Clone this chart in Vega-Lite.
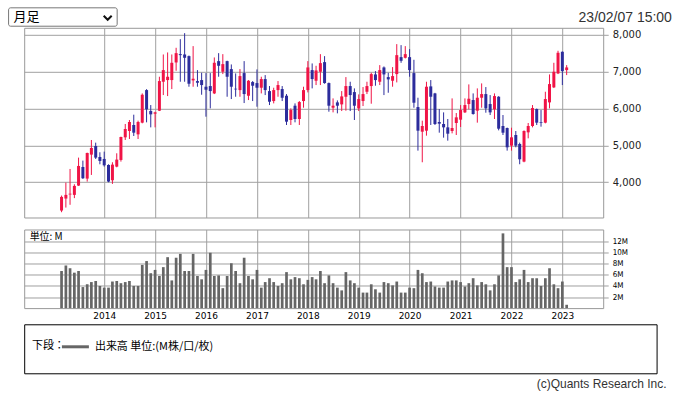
{
"$schema": "https://vega.github.io/schema/vega-lite/v6.json",
"background": "white",
"padding": {"left": 6.2, "top": 6.8, "right": 2, "bottom": 2},
"spacing": 2.5,
"config": {
  "view": {"stroke": "#999999", "strokeWidth": 1},
  "axis": {"gridColor": "#a0a0a0", "gridOpacity": 1, "gridWidth": 1, "tickColor": "#a0a0a0", "labelColor": "#222222", "labelFont": "DejaVu Sans"},
  "scale": {"continuousPadding": 0},
  "font": "Noto Sans CJK JP"
},
"resolve": {"legend": {"color": "independent"}, "scale": {"color": "independent", "x": "independent"}},
"datasets": {
"p": [
{"d":"2013-03-01","o":3234,"h":3640,"l":3189,"c":3604,"v":6.7},
{"d":"2013-04-01","o":3559,"h":3991,"l":3315,"c":3658,"v":7.7},
{"d":"2013-05-01","o":3670,"h":4360,"l":3390,"c":3690,"v":7.2},
{"d":"2013-06-01","o":3658,"h":3946,"l":3570,"c":3901,"v":6.4},
{"d":"2013-07-01","o":3910,"h":4667,"l":3900,"c":4441,"v":6.7},
{"d":"2013-08-01","o":4414,"h":4586,"l":4090,"c":4108,"v":3.8},
{"d":"2013-09-01","o":4099,"h":4800,"l":4018,"c":4793,"v":4.3},
{"d":"2013-10-01","o":4748,"h":5144,"l":4198,"c":4928,"v":4.7},
{"d":"2013-11-01","o":4982,"h":5072,"l":4630,"c":4667,"v":4.9},
{"d":"2013-12-01","o":4685,"h":4811,"l":4486,"c":4577,"v":4.0},
{"d":"2014-01-01","o":4631,"h":4829,"l":4423,"c":4459,"v":3.7},
{"d":"2014-02-01","o":4468,"h":4486,"l":4000,"c":4018,"v":3.7},
{"d":"2014-03-01","o":4054,"h":4541,"l":3955,"c":4477,"v":4.8},
{"d":"2014-04-01","o":4423,"h":4784,"l":4405,"c":4613,"v":4.9},
{"d":"2014-05-01","o":4604,"h":5234,"l":4559,"c":5225,"v":4.5},
{"d":"2014-06-01","o":5216,"h":5577,"l":5144,"c":5441,"v":4.7},
{"d":"2014-07-01","o":5387,"h":5685,"l":5171,"c":5631,"v":4.9},
{"d":"2014-08-01","o":5550,"h":5829,"l":5252,"c":5342,"v":4.0},
{"d":"2014-09-01","o":5297,"h":5667,"l":5171,"c":5631,"v":4.0},
{"d":"2014-10-01","o":5613,"h":6405,"l":5595,"c":6369,"v":7.8},
{"d":"2014-11-01","o":6495,"h":6520,"l":5622,"c":5973,"v":8.5},
{"d":"2014-12-01","o":5928,"h":6090,"l":5486,"c":5838,"v":6.3},
{"d":"2015-01-01","o":5856,"h":5910,"l":5486,"c":5892,"v":6.9},
{"d":"2015-02-01","o":5937,"h":6856,"l":5928,"c":6739,"v":5.8},
{"d":"2015-03-01","o":6721,"h":7459,"l":6360,"c":7036,"v":7.4},
{"d":"2015-04-01","o":6766,"h":7514,"l":6333,"c":6856,"v":9.2},
{"d":"2015-05-01","o":6766,"h":7459,"l":6523,"c":7234,"v":5.0},
{"d":"2015-06-01","o":7243,"h":7640,"l":7018,"c":7495,"v":9.1},
{"d":"2015-07-01","o":7468,"h":7874,"l":6721,"c":7441,"v":9.8},
{"d":"2015-08-01","o":7459,"h":8036,"l":6721,"c":7369,"v":6.7},
{"d":"2015-09-01","o":7414,"h":7430,"l":6586,"c":6667,"v":6.7},
{"d":"2015-10-01","o":6757,"h":7685,"l":6586,"c":6802,"v":9.8},
{"d":"2015-11-01","o":6739,"h":7036,"l":6586,"c":6694,"v":5.8},
{"d":"2015-12-01","o":6766,"h":6964,"l":6369,"c":6631,"v":5.2},
{"d":"2016-01-01","o":6586,"h":6955,"l":5775,"c":6505,"v":6.9},
{"d":"2016-02-01","o":6604,"h":6955,"l":6000,"c":6468,"v":10.0},
{"d":"2016-03-01","o":6405,"h":7378,"l":6387,"c":7234,"v":5.8},
{"d":"2016-04-01","o":7279,"h":7495,"l":6856,"c":7153,"v":5.9},
{"d":"2016-05-01","o":6991,"h":7468,"l":6928,"c":7198,"v":3.6},
{"d":"2016-06-01","o":7279,"h":7290,"l":6315,"c":6856,"v":5.8},
{"d":"2016-07-01","o":7063,"h":7189,"l":6252,"c":6586,"v":8.1},
{"d":"2016-08-01","o":6532,"h":6946,"l":6315,"c":6514,"v":6.7},
{"d":"2016-09-01","o":6495,"h":7063,"l":6315,"c":6874,"v":4.5},
{"d":"2016-10-01","o":6955,"h":7279,"l":6144,"c":6387,"v":9.1},
{"d":"2016-11-01","o":6342,"h":6766,"l":6225,"c":6748,"v":5.8},
{"d":"2016-12-01","o":6712,"h":6739,"l":6198,"c":6613,"v":5.2},
{"d":"2017-01-01","o":6685,"h":7054,"l":6045,"c":6559,"v":6.9},
{"d":"2017-02-01","o":6559,"h":6856,"l":6405,"c":6793,"v":3.7},
{"d":"2017-03-01","o":6793,"h":6901,"l":6360,"c":6495,"v":4.7},
{"d":"2017-04-01","o":6468,"h":6604,"l":6090,"c":6180,"v":5.4},
{"d":"2017-05-01","o":6198,"h":6559,"l":6135,"c":6495,"v":4.7},
{"d":"2017-06-01","o":6495,"h":6739,"l":6315,"c":6631,"v":4.0},
{"d":"2017-07-01","o":6523,"h":6604,"l":6198,"c":6288,"v":4.5},
{"d":"2017-08-01","o":6342,"h":6387,"l":5550,"c":5640,"v":6.5},
{"d":"2017-09-01","o":5685,"h":6000,"l":5550,"c":5955,"v":5.2},
{"d":"2017-10-01","o":6072,"h":6135,"l":5622,"c":5712,"v":5.6},
{"d":"2017-11-01","o":5712,"h":6198,"l":5550,"c":6171,"v":5.4},
{"d":"2017-12-01","o":6198,"h":6586,"l":6018,"c":6495,"v":4.3},
{"d":"2018-01-01","o":6495,"h":7279,"l":6432,"c":7108,"v":5.1},
{"d":"2018-02-01","o":7036,"h":7216,"l":6541,"c":6793,"v":5.6},
{"d":"2018-03-01","o":6748,"h":7153,"l":6631,"c":7027,"v":5.2},
{"d":"2018-04-01","o":6991,"h":7468,"l":6631,"c":7225,"v":6.7},
{"d":"2018-05-01","o":7252,"h":7414,"l":6667,"c":6685,"v":4.5},
{"d":"2018-06-01","o":6685,"h":6700,"l":5910,"c":6072,"v":5.9},
{"d":"2018-07-01","o":6018,"h":6270,"l":5892,"c":6072,"v":4.5},
{"d":"2018-08-01","o":6162,"h":6216,"l":5865,"c":6072,"v":3.7},
{"d":"2018-09-01","o":6108,"h":6468,"l":5928,"c":6324,"v":3.2},
{"d":"2018-10-01","o":6315,"h":6847,"l":5937,"c":6604,"v":6.5},
{"d":"2018-11-01","o":6604,"h":6721,"l":5928,"c":6360,"v":5.0},
{"d":"2018-12-01","o":6441,"h":6541,"l":5685,"c":6072,"v":4.5},
{"d":"2019-01-01","o":6000,"h":6378,"l":5928,"c":6252,"v":3.7},
{"d":"2019-02-01","o":6198,"h":6577,"l":6063,"c":6387,"v":2.8},
{"d":"2019-03-01","o":6450,"h":6721,"l":6387,"c":6604,"v":2.8},
{"d":"2019-04-01","o":6604,"h":6964,"l":6126,"c":6928,"v":4.3},
{"d":"2019-05-01","o":6919,"h":7009,"l":6613,"c":6766,"v":3.4},
{"d":"2019-06-01","o":6721,"h":7171,"l":6631,"c":7036,"v":2.8},
{"d":"2019-07-01","o":7108,"h":7135,"l":6360,"c":6919,"v":4.7},
{"d":"2019-08-01","o":6847,"h":6964,"l":6423,"c":6784,"v":4.5},
{"d":"2019-09-01","o":6748,"h":7117,"l":6586,"c":6874,"v":4.1},
{"d":"2019-10-01","o":6928,"h":7739,"l":6703,"c":7441,"v":4.8},
{"d":"2019-11-01","o":7387,"h":7712,"l":7234,"c":7288,"v":2.8},
{"d":"2019-12-01","o":7369,"h":7685,"l":7351,"c":7468,"v":2.8},
{"d":"2020-01-01","o":7387,"h":7604,"l":6856,"c":7036,"v":3.7},
{"d":"2020-02-01","o":6955,"h":7315,"l":6018,"c":6153,"v":3.6},
{"d":"2020-03-01","o":6036,"h":6288,"l":4856,"c":5396,"v":6.9},
{"d":"2020-04-01","o":5369,"h":5667,"l":4541,"c":5523,"v":6.3},
{"d":"2020-05-01","o":5396,"h":6721,"l":5261,"c":6586,"v":4.7},
{"d":"2020-06-01","o":6595,"h":6766,"l":5550,"c":6315,"v":4.8},
{"d":"2020-07-01","o":6405,"h":6420,"l":5550,"c":5577,"v":3.9},
{"d":"2020-08-01","o":5631,"h":5982,"l":5342,"c":5586,"v":3.7},
{"d":"2020-09-01","o":5577,"h":5892,"l":5207,"c":5486,"v":3.7},
{"d":"2020-10-01","o":5486,"h":5712,"l":5126,"c":5315,"v":4.8},
{"d":"2020-11-01","o":5387,"h":6270,"l":5324,"c":5468,"v":5.0},
{"d":"2020-12-01","o":5604,"h":5874,"l":5279,"c":5757,"v":5.0},
{"d":"2021-01-01","o":5694,"h":6090,"l":5496,"c":5955,"v":4.7},
{"d":"2021-02-01","o":5892,"h":6270,"l":5874,"c":6090,"v":3.9},
{"d":"2021-03-01","o":6117,"h":6649,"l":5973,"c":6261,"v":4.5},
{"d":"2021-04-01","o":6225,"h":6405,"l":5830,"c":5847,"v":5.4},
{"d":"2021-05-01","o":5937,"h":6541,"l":5613,"c":6288,"v":4.1},
{"d":"2021-06-01","o":6288,"h":6676,"l":6018,"c":6387,"v":4.7},
{"d":"2021-07-01","o":6387,"h":6577,"l":5883,"c":6000,"v":4.3},
{"d":"2021-08-01","o":6117,"h":6360,"l":5820,"c":5892,"v":3.2},
{"d":"2021-09-01","o":5973,"h":6405,"l":5712,"c":6333,"v":4.3},
{"d":"2021-10-01","o":6315,"h":6330,"l":5405,"c":5450,"v":5.9},
{"d":"2021-11-01","o":5523,"h":5820,"l":5279,"c":5342,"v":13.5},
{"d":"2021-12-01","o":5468,"h":5480,"l":4856,"c":4946,"v":7.4},
{"d":"2022-01-01","o":4991,"h":5477,"l":4856,"c":5216,"v":7.4},
{"d":"2022-02-01","o":5279,"h":5387,"l":4946,"c":4991,"v":4.7},
{"d":"2022-03-01","o":5036,"h":5072,"l":4487,"c":4622,"v":5.2},
{"d":"2022-04-01","o":4559,"h":5405,"l":4541,"c":5387,"v":6.9},
{"d":"2022-05-01","o":5351,"h":5604,"l":5189,"c":5523,"v":4.7},
{"d":"2022-06-01","o":5523,"h":6090,"l":5486,"c":6009,"v":5.4},
{"d":"2022-07-01","o":5982,"h":5995,"l":5550,"c":5613,"v":5.4},
{"d":"2022-08-01","o":5631,"h":5955,"l":5505,"c":5613,"v":4.0},
{"d":"2022-09-01","o":5613,"h":6450,"l":5595,"c":6252,"v":5.4},
{"d":"2022-10-01","o":6162,"h":6919,"l":6000,"c":6658,"v":7.2},
{"d":"2022-11-01","o":6568,"h":7234,"l":6550,"c":6991,"v":4.3},
{"d":"2022-12-01","o":6946,"h":7559,"l":6928,"c":7505,"v":3.6},
{"d":"2023-01-01","o":7532,"h":7540,"l":6631,"c":7009,"v":4.8},
{"d":"2023-02-01","o":7036,"h":7171,"l":6901,"c":7108,"v":0.6}
]
},
"vconcat": [
{
  "bounds": "flush",
  "spacing": 11.7,
  "vconcat": [
  {
    "width": 579,
    "height": 189.7,
    "layer": [
      {
        "data": {"name": "p"},
        "mark": {"type": "rule", "strokeWidth": 1},
        "encoding": {
          "x": {"field": "d", "type": "temporal",
                "scale": {"type": "utc", "padding": 0, "domain": [{"year": 2012, "month": 6, "date": 6, "utc": true}, {"year": 2023, "month": 10, "date": 21, "utc": true}]},
                "axis": {"title": null, "grid": true, "labels": false, "ticks": false, "domain": false,
                         "values": [{"year":2014,"month":1,"date":1,"utc":true},{"year":2015,"month":1,"date":1,"utc":true},{"year":2016,"month":1,"date":1,"utc":true},{"year":2017,"month":1,"date":1,"utc":true},{"year":2018,"month":1,"date":1,"utc":true},{"year":2019,"month":1,"date":1,"utc":true},{"year":2020,"month":1,"date":1,"utc":true},{"year":2021,"month":1,"date":1,"utc":true},{"year":2022,"month":1,"date":1,"utc":true},{"year":2023,"month":1,"date":1,"utc":true}]}},
          "y": {"field": "l", "type": "quantitative",
                "scale": {"domain": [3046, 8181], "nice": false, "zero": false, "padding": 0},
                "axis": {"title": null, "orient": "right", "values": [4000, 5000, 6000, 7000, 8000], "format": ",d", "grid": true, "ticks": true, "tickSize": 5, "domain": false, "labelFontSize": 10, "labelPadding": 4}},
          "y2": {"field": "h"},
          "color": {"condition": {"test": "datum.c >= datum.o", "value": "#f01446"}, "value": "#2c2c9c"}
        }
      },
      {
        "data": {"name": "p"},
        "mark": {"type": "bar", "width": 3},
        "encoding": {
          "x": {"field": "d", "type": "temporal"},
          "y": {"field": "o", "type": "quantitative"},
          "y2": {"field": "c"},
          "color": {"condition": {"test": "datum.c >= datum.o", "value": "#f01446"}, "value": "#2c2c9c"}
        }
      },
      {
        "data": {"values": [{}]},
        "mark": {"type": "rect", "fill": "white", "stroke": "#767676", "strokeWidth": 1, "cornerRadius": 2, "clip": false},
        "encoding": {
          "x": {"datum": {"year": 2012, "month": 2, "date": 15, "utc": true}, "type": "temporal"},
          "x2": {"datum": {"year": 2014, "month": 4, "date": 4, "utc": true}},
          "y": {"datum": 8722, "type": "quantitative"},
          "y2": {"datum": 8224}
        }
      },
      {
        "data": {"values": [{}]},
        "mark": {"type": "text", "align": "left", "baseline": "middle", "fontSize": 13, "font": "Noto Sans CJK JP", "color": "#000000", "clip": false},
        "encoding": {
          "x": {"datum": {"year": 2012, "month": 3, "date": 22, "utc": true}, "type": "temporal"},
          "y": {"datum": 8473, "type": "quantitative"},
          "text": {"value": "月足"}
        }
      },
      {
        "data": {"values": [{}]},
        "mark": {"type": "point", "shape": "M-1,-0.5L0,0.5L1,-0.5", "filled": false, "color": "#111111", "strokeWidth": 2, "size": 64, "opacity": 1, "clip": false},
        "encoding": {
          "x": {"datum": {"year": 2014, "month": 1, "date": 26, "utc": true}, "type": "temporal"},
          "y": {"datum": 8451, "type": "quantitative"}
        }
      },
      {
        "data": {"values": [{}]},
        "mark": {"type": "text", "align": "right", "baseline": "middle", "fontSize": 14, "font": "Liberation Sans", "color": "#333333", "clip": false},
        "encoding": {
          "x": {"datum": {"year": 2025, "month": 2, "date": 25, "utc": true}, "type": "temporal"},
          "y": {"datum": 8459, "type": "quantitative"},
          "text": {"value": "23/02/07 15:00"}
        }
      }
    ]
  },
  {
    "width": 579,
    "height": 78.6,
    "layer": [
      {
        "data": {"name": "p"},
        "mark": {"type": "bar", "width": 2.7, "color": "#666666"},
        "encoding": {
          "x": {"field": "d", "type": "temporal",
                "scale": {"type": "utc", "padding": 0, "domain": [{"year": 2012, "month": 6, "date": 6, "utc": true}, {"year": 2023, "month": 10, "date": 21, "utc": true}]},
                "axis": {"title": null, "grid": true, "labels": true, "ticks": false, "domain": false, "format": "%Y", "labelFontSize": 9, "labelPadding": 3, "labelColor": "#000000",
                         "values": [{"year":2014,"month":1,"date":1,"utc":true},{"year":2015,"month":1,"date":1,"utc":true},{"year":2016,"month":1,"date":1,"utc":true},{"year":2017,"month":1,"date":1,"utc":true},{"year":2018,"month":1,"date":1,"utc":true},{"year":2019,"month":1,"date":1,"utc":true},{"year":2020,"month":1,"date":1,"utc":true},{"year":2021,"month":1,"date":1,"utc":true},{"year":2022,"month":1,"date":1,"utc":true},{"year":2023,"month":1,"date":1,"utc":true}]}},
          "y": {"field": "v", "type": "quantitative",
                "scale": {"domain": [0, 14.2], "nice": false, "padding": 0},
                "axis": {"title": null, "orient": "right", "values": [2, 4, 6, 8, 10, 12], "labelExpr": "datum.value + 'M'", "labelOverlap": false, "grid": true, "ticks": true, "tickSize": 5, "domain": false, "labelFontSize": 8, "labelFont": "DejaVu Sans Condensed, DejaVu Sans", "labelPadding": 4, "labelColor": "#000000"}}
        }
      },
      {
        "data": {"values": [{}]},
        "mark": {"type": "text", "align": "left", "baseline": "middle", "fontSize": 10, "font": "Noto Sans CJK JP", "color": "#000000"},
        "encoding": {
          "x": {"datum": {"year": 2012, "month": 7, "date": 15, "utc": true}, "type": "temporal"},
          "y": {"datum": 12.9, "type": "quantitative",
                "axis": {"title": null, "orient": "right", "values": [2, 4, 6, 8, 10, 12], "labelExpr": "datum.value + 'M'", "labelOverlap": false, "grid": true, "ticks": true, "tickSize": 5, "domain": false, "labelFontSize": 8, "labelFont": "DejaVu Sans Condensed, DejaVu Sans", "labelPadding": 4, "labelColor": "#000000"}},
          "text": {"value": "単位: M"}
        }
      }
    ]
  }
  ]
},
{
  "width": 632.4,
  "height": 49,
  "view": {"stroke": "#000000", "strokeWidth": 1},
  "title": {"text": "(c)Quants Research Inc.", "orient": "bottom", "anchor": "end", "frame": "group", "dx": 10, "offset": 6, "baseline": "top", "fontSize": 12, "fontWeight": "normal", "font": "Liberation Sans", "color": "#333333"},
  "layer": [
    {
      "data": {"values": [{}]},
      "mark": {"type": "rule", "strokeWidth": 1, "opacity": 0, "clip": false},
      "encoding": {
        "x": {"datum": {"year": 2012, "month": 2, "date": 15, "utc": true}, "type": "temporal",
              "scale": {"type": "utc", "padding": 0, "domain": [{"year": 2012, "month": 6, "date": 6, "utc": true}, {"year": 2023, "month": 10, "date": 21, "utc": true}]},
              "axis": null}
      }
    },
    {
      "data": {"values": [{}]},
      "mark": {"type": "point", "opacity": 0},
      "encoding": {
        "color": {"datum": "出来高 単位:(M株/口/枚)", "type": "nominal", "scale": {"range": ["#666666"]},
          "legend": {"orient": "none", "legendX": 7.7, "legendY": 15, "direction": "horizontal", "title": "下段：", "titleOrient": "left", "titleFontSize": 11, "titleFontWeight": "normal", "titleFont": "Noto Sans CJK JP", "titleColor": "#000000", "titlePadding": 3, "labelFont": "Noto Sans CJK JP", "labelFontSize": 11, "labelColor": "#000000", "symbolType": "M-2.25,0H2.25", "symbolStrokeWidth": 3, "symbolSize": 144, "symbolStrokeColor": "#666666", "symbolFillColor": "transparent", "symbolOpacity": 1, "labelOffset": 12, "padding": 0}}
      }
    }
  ]
}
]
}
